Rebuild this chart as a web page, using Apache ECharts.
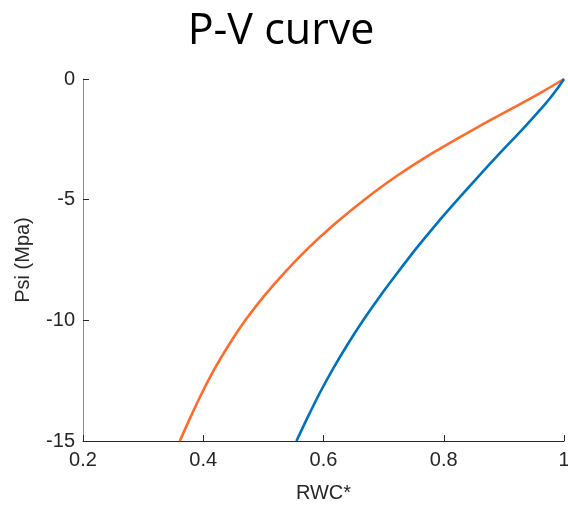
<!DOCTYPE html>
<html><head><meta charset="utf-8">
<script src="https://cdn.jsdelivr.net/npm/echarts@6/dist/echarts.min.js"></script>
<style>html,body{margin:0;padding:0;background:#fff}#c{width:568px;height:505px}</style>
</head><body><div id="c"></div>
<script>
const titleText = "P-V curve";
const xName = "RWC*";
const yName = "Psi (Mpa)";
const xTicks = [0.2, 0.4, 0.6, 0.8, 1];
const yTicks = [-15, -10, -5, 0];

const psiLevels = [-15, -14, -13, -12, -11, -10, -9, -8, -7, -6, -5, -4, -3, -2, -1, -0.5, 0];
const rwcOrange = [0.361, 0.379, 0.398, 0.419, 0.443, 0.470, 0.501, 0.536, 0.575, 0.619, 0.668, 0.723, 0.786, 0.856, 0.930, 0.966, 1.0];
const rwcBlue   = [0.555, 0.574, 0.594, 0.616, 0.640, 0.666, 0.694, 0.724, 0.755, 0.788, 0.823, 0.859, 0.896, 0.934, 0.970, 0.986, 1.0];

const zip = (a, b) => a.map((v, i) => [v, b[i]]);
const font = "Liberation Sans, Arial, sans-serif";

const chart = echarts.init(document.getElementById('c'), null, {renderer: 'canvas'});
chart.setOption({
  animation: false,
  backgroundColor: '#fff',
  title: {
    text: titleText, left: 276, top: 5, textAlign: 'center',
    textStyle: {fontFamily: "Open Sans, Liberation Sans, sans-serif", fontSize: 43, fontWeight: 'normal', color: '#000'}
  },
  grid: {left: 83, right: 4, top: 79, bottom: 64, containLabel: false, outerBoundsMode: 'none'},
  xAxis: {
    type: 'value', min: 0.2, max: 1, interval: 0.2,
    name: xName, nameLocation: 'middle', nameGap: 42,
    nameTextStyle: {fontFamily: font, fontSize: 20, color: '#262626'},
    axisLine: {show: true, onZero: false, lineStyle: {color: '#262626', width: 1}},
    axisTick: {show: true, inside: true, length: 6, lineStyle: {color: '#262626'}},
    axisLabel: {fontFamily: font, fontSize: 20, color: '#262626', margin: 9,
      formatter: v => xTicks.includes(Math.round(v*10)/10) ? String(Math.round(v*10)/10) : ''},
    splitLine: {show: false}
  },
  yAxis: {
    type: 'value', min: -15, max: 0, interval: 5,
    name: yName, nameLocation: 'middle', nameGap: 50, nameRotate: 90,
    nameTextStyle: {fontFamily: font, fontSize: 20, color: '#262626'},
    axisLine: {show: true, onZero: false, lineStyle: {color: '#8c8c8c', width: 1}},
    axisTick: {show: true, inside: true, length: 6, lineStyle: {color: '#262626'}},
    axisLabel: {fontFamily: font, fontSize: 20, color: '#262626', margin: 8,
      formatter: v => yTicks.includes(v) ? String(v) : ''},
    splitLine: {show: false}
  },
  series: [
    {type: 'line', data: zip(rwcOrange, psiLevels), smooth: 0.3, showSymbol: false,
     lineStyle: {color: '#FF6B2B', width: 2.6}, itemStyle: {color: '#FF6B2B'}, clip: true},
    {type: 'line', data: zip(rwcBlue, psiLevels), smooth: 0.3, showSymbol: false,
     lineStyle: {color: '#0072BD', width: 2.6}, itemStyle: {color: '#0072BD'}, clip: true}
  ]
});
</script></body></html>
